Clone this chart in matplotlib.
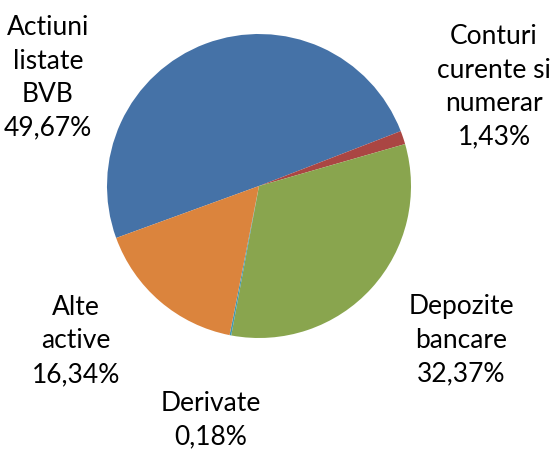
import matplotlib
matplotlib.use('Agg')
import matplotlib.pyplot as plt

#--- data ---#
labels = ['Actiuni\nlistate\nBVB', 'Conturi\ncurente si\nnumerar', 'Depozite\nbancare', 'Derivate', 'Alte\nactive']
shares = [49.67, 1.43, 32.37, 0.18, 16.34]
colors = ['#4572A7', '#AA4643', '#89A54E', '#4198AF', '#DB843D']

#--- layout (pixels in a 552x450 canvas) ---#
cx, cy, r = 259.0, 186.0, 152.0
label_px = [(48, 78), (494, 87), (461, 340), (211, 420), (76, 341)]

fig = plt.figure(figsize=(5.52, 4.5), dpi=100)
ax = fig.add_axes([0, 0, 1, 1])
ax.pie(shares, colors=colors, startangle=200, counterclock=False,
       radius=1.0, center=(0, 0), wedgeprops=dict(linewidth=0))
ax.set_xlim(-cx / r, (552 - cx) / r)
ax.set_ylim((cy - 450) / r, cy / r)
ax.set_aspect('equal')
ax.axis('off')

for lab, val, (px, py) in zip(labels, shares, label_px):
    txt = lab + '\n' + ('%.2f' % val).replace('.', ',') + '%'
    ax.text((px - cx) / r, (cy - py) / r, txt, ha='center', va='center',
            fontsize=19, family='Lato', linespacing=1.42, color='black')

plt.savefig('out.png', dpi=100)
